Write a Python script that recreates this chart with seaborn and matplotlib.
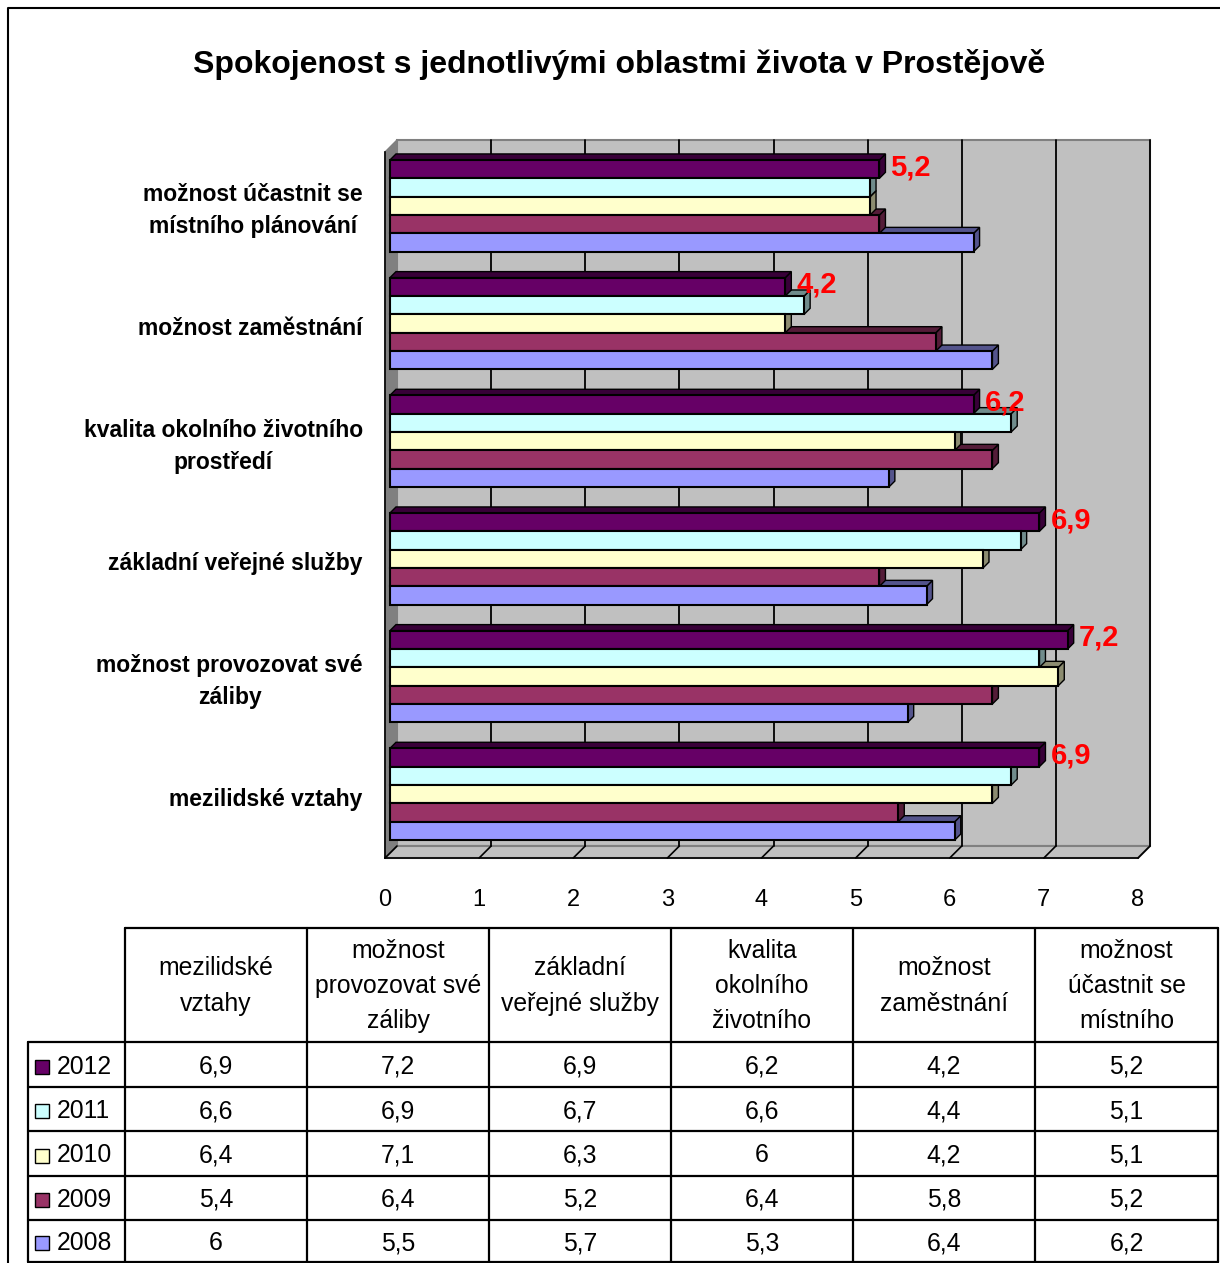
import matplotlib
matplotlib.use("Agg")
import matplotlib.pyplot as plt
import matplotlib.transforms as mtransforms
from matplotlib.patches import Rectangle, Polygon
from matplotlib.colors import to_rgb
import seaborn as sns
import pandas as pd
import numpy as np

# categories in table order (bottom of chart -> top of chart)
categories = ["mezilidské vztahy", "možnost provozovat své záliby", "základní veřejné služby",
              "kvalita okolního životního prostředí", "možnost zaměstnání",
              "možnost účastnit se místního plánování"]
axis_labels = ["mezilidské vztahy", "možnost provozovat své\nzáliby", "základní veřejné služby",
               "kvalita okolního životního\nprostředí", "možnost zaměstnání",
               "možnost účastnit se\nmístního plánování"]
table_headers = ["mezilidské\nvztahy", "možnost\nprovozovat své\nzáliby", "základní\nveřejné služby",
                 "kvalita\nokolního\nživotního", "možnost\nzaměstnání", "možnost\núčastnit se\nmístního"]
years = ["2012", "2011", "2010", "2009", "2008"]
v2012 = [6.9, 7.2, 6.9, 6.2, 4.2, 5.2]
v2011 = [6.6, 6.9, 6.7, 6.6, 4.4, 5.1]
v2010 = [6.4, 7.1, 6.3, 6.0, 4.2, 5.1]
v2009 = [5.4, 6.4, 5.2, 6.4, 5.8, 5.2]
v2008 = [6.0, 5.5, 5.7, 5.3, 6.4, 6.2]
colors = ["#660066", "#CCFFFF", "#FFFFCC", "#993366", "#9999FF"]
title = "Spokojenost s jednotlivými oblastmi života v Prostějově"

values = [v2012, v2011, v2010, v2009, v2008]
rows = []
for y, vals in zip(years, values):
    for c, v in zip(categories, vals):
        rows.append({"kategorie": c, "rok": y, "hodnota": v})
df = pd.DataFrame(rows)


def fmt(v):
    return f"{v:g}".replace(".", ",")


sns.set_style("white")
plt.rcParams["font.family"] = ["Liberation Sans", "DejaVu Sans"]
plt.rcParams["text.color"] = "black"
plt.rcParams["xtick.color"] = "black"
plt.rcParams["ytick.color"] = "black"
plt.rcParams["axes.labelcolor"] = "black"

W, H = 1220, 1263
fig = plt.figure(figsize=(W / 100, H / 100), dpi=100)

# overlay in pixel coordinates for frame and data table
tax = fig.add_axes([0, 0, 1, 1])
tax.set_xlim(0, W)
tax.set_ylim(H, 0)
tax.axis("off")

ax = fig.add_axes([385 / W, 1 - 858 / H, 753 / W, 706 / H])
ax.set_facecolor("none")
sns.barplot(data=df, y="kategorie", x="hodnota", hue="rok", order=categories[::-1],
            hue_order=years, palette=colors, orient="h", width=0.78, saturation=1,
            edgecolor="black", linewidth=1.5, legend=False, ax=ax)
bars = list(ax.patches)

ax.set_xlim(0, 8)
ax.set_ylim(5.5, -0.5)
ax.set_xlabel("")
ax.set_ylabel("")
ax.set_xticks(range(9))
ax.tick_params(axis="x", length=11, width=1.2, labelsize=17, pad=11)
ax.set_yticks(range(6))
ax.set_yticklabels(axis_labels[::-1], fontweight="bold", fontsize=16.5,
                   multialignment="center", linespacing=1.5)
for t in ax.get_yticklabels():
    t.set_verticalalignment("center")
ax.tick_params(axis="y", which="major", length=0, pad=16)
ax.set_yticks(np.arange(-0.5, 6, 1), minor=True)
ax.tick_params(axis="y", which="minor", length=10, width=1.2, direction="out")
for s in ["top", "right"]:
    ax.spines[s].set_visible(False)
for s in ["left", "bottom"]:
    ax.spines[s].set_color("black")
    ax.spines[s].set_linewidth(1.2)

# 3D-like walls
d = 12
off = ax.transData + mtransforms.ScaledTranslation(d / 100, d / 100, fig.dpi_scale_trans)
ax.add_patch(Rectangle((0, -0.5), 8, 6, transform=off, facecolor="#C0C0C0",
                       edgecolor="#808080", lw=1.5, zorder=0, clip_on=False))
for t in range(1, 9):
    ax.plot([t, t], [-0.5, 5.5], transform=off, color="black", lw=1.3, zorder=0.5, clip_on=False)

ident = mtransforms.IdentityTransform()
p_tl = ax.transData.transform((0, -0.5))
p_bl = ax.transData.transform((0, 5.5))
p_br = ax.transData.transform((8, 5.5))
dd = np.array([d, d])
ax.add_patch(Polygon([p_tl, p_tl + dd, p_bl + dd, p_bl], closed=True, transform=ident,
                     facecolor="#808080", edgecolor="#808080", zorder=0.4, clip_on=False))
ax.add_patch(Polygon([p_bl, p_bl + dd, p_br + dd, p_br], closed=True, transform=ident,
                     facecolor="#C0C0C0", edgecolor="#808080", lw=1.5, zorder=0.4, clip_on=False))
for t in range(9):
    p = ax.transData.transform((t, 5.5))
    ax.plot([p[0], p[0] + d], [p[1], p[1] + d], transform=ident, color="black",
            lw=1.2, zorder=0.6, clip_on=False)

# bars sit a little inside the box (middle of the depth)
shift = 5
bar_tr = ax.transData + mtransforms.ScaledTranslation(shift / 100, shift / 100, fig.dpi_scale_trans)
db = 6
for b in sorted(bars, key=lambda r: -r.get_y()):
    if b.get_width() <= 0:
        continue
    b.set_transform(bar_tr)
    b.set_clip_on(False)
    a = ax.transData.transform((b.get_x(), b.get_y())) + shift
    c = ax.transData.transform((b.get_x() + b.get_width(), b.get_y() + b.get_height())) + shift
    xl, xr = min(a[0], c[0]), max(a[0], c[0])
    ylo, yhi = min(a[1], c[1]), max(a[1], c[1])
    dark = tuple(np.array(to_rgb(b.get_facecolor())) * 0.55)
    ax.add_patch(Polygon([(xr, ylo), (xr, yhi), (xr + db, yhi + db), (xr + db, ylo + db)],
                         closed=True, transform=ident, facecolor=dark, edgecolor="black",
                         lw=1, zorder=0.8, clip_on=False))
    ax.add_patch(Polygon([(xl, yhi), (xr, yhi), (xr + db, yhi + db), (xl + db, yhi + db)],
                         closed=True, transform=ident, facecolor=dark, edgecolor="black",
                         lw=1, zorder=0.8, clip_on=False))

# red labels for 2012
for i, cat in enumerate(categories[::-1]):
    v = v2012[categories.index(cat)]
    ax.text(v + 0.17, i - 0.37, fmt(v), color="red", fontsize=21, fontweight="bold",
            ha="left", va="center", zorder=5, clip_on=False)

# title
fig.text(619 / W, 1 - 64 / H, title, ha="center", va="center", fontsize=23, fontweight="bold")

# outer frame
tax.plot([8, 8, W], [H, 8, 8], color="black", lw=1.5)

# data table
xs = [125, 307, 489, 671, 853, 1035, 1218]
ys = [928, 1042, 1087, 1131, 1176, 1220, 1262]
lw = 1.6
tax.plot([xs[0], xs[-1]], [ys[0], ys[0]], color="black", lw=lw)
for yy in ys[1:]:
    tax.plot([28, xs[-1]], [yy, yy], color="black", lw=lw)
tax.plot([28, 28], [ys[1], ys[-1]], color="black", lw=lw)
for xx in xs:
    tax.plot([xx, xx], [ys[0], ys[-1]], color="black", lw=lw)

for j, hdr in enumerate(table_headers):
    tax.text((xs[j] + xs[j + 1]) / 2, (ys[0] + ys[1]) / 2 + 1, hdr, ha="center", va="center",
             fontsize=17.8, linespacing=1.58, multialignment="center")

for r, (y, vals, col) in enumerate(zip(years, values, colors)):
    yc = (ys[r + 1] + ys[r + 2]) / 2 + 2
    tax.add_patch(Rectangle((35, yc - 7), 14, 14, facecolor=col, edgecolor="black", lw=1))
    tax.text(57, yc, y, ha="left", va="center", fontsize=17.8)
    for j, v in enumerate(vals):
        tax.text((xs[j] + xs[j + 1]) / 2, yc, fmt(v), ha="center", va="center", fontsize=17.8)

fig.savefig("out.png", dpi=100)
